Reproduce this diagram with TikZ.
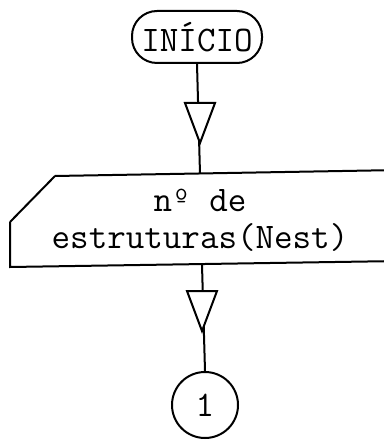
\documentclass[tikz,border=0pt]{standalone}
\usepackage{fontspec}
\begin{document}
\begin{tikzpicture}[x=1pt,y=-1pt,
  ln/.style={line width=2pt},
  tfont/.style={font=\ttfamily\fontsize{36}{37}\selectfont},
  term/.style={draw,ln,rounded corners=25pt,minimum width=130pt,minimum height=52pt,inner sep=0pt,tfont},
  txt/.style={align=center,inner sep=0pt,tfont},
  conn/.style={draw,ln,circle,minimum size=66pt,inner sep=0pt,tfont},
  tri/.style={draw,ln,fill=white,line join=miter}]
\useasboundingbox (0,0) rectangle (383,443);
\node[term] (start) at (197,37) {INÍCIO};
% manual input shape
\coordinate (inTop) at (200,174);
\coordinate (inBot) at (202,265);
\draw[ln] (55,176) -- (400,170) (10,222) -- (55,176) (10,222) -- (10,267) -- (400,261);
\node[txt] (inp) at (200,220) {nº de\\estruturas(Nest)};
\node[conn] (c1) at (205,405) {1};
% connectors
\draw[ln] (start.south) -- (inTop);
\draw[ln] (inBot) -- (c1.north);
% flow arrowheads
\coordinate (t1) at (200,143);
\draw[tri] (t1) -- ++(-15,-40) -- ++(30,0) -- cycle;
\coordinate (t2) at (202,331);
\draw[tri] (t2) -- ++(-15,-40) -- ++(30,0) -- cycle;
\end{tikzpicture}
\end{document}
